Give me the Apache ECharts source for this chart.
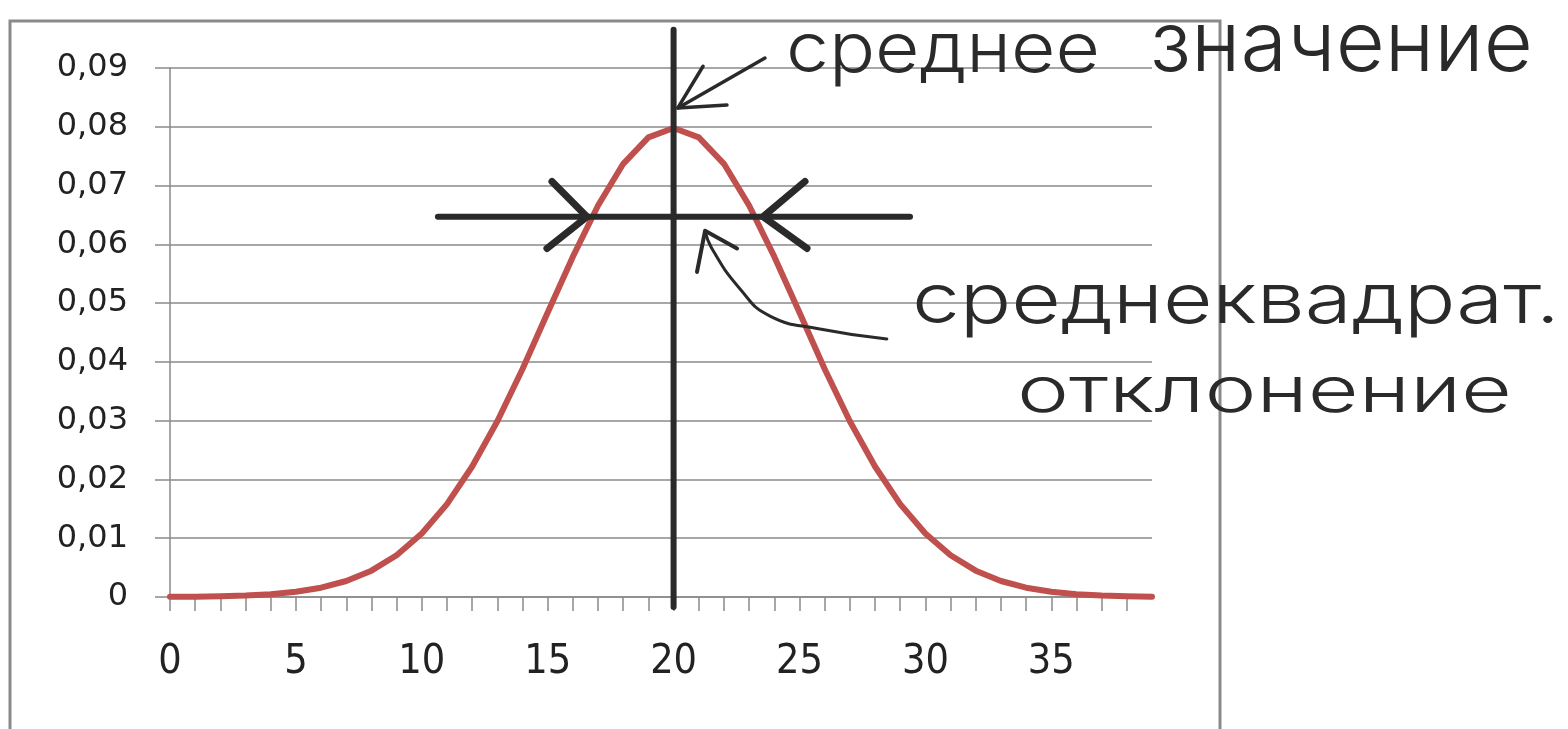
<!DOCTYPE html>
<html>
<head>
<meta charset="utf-8">
<script src="https://cdn.jsdelivr.net/npm/echarts@6/dist/echarts.min.js"></script>
<style>
html,body{margin:0;padding:0;background:#fff;}
#c{width:1568px;height:729px;}
</style>
</head>
<body>
<div id="c"></div>
<script>
// ---- data ----
const xValues = [0,1,2,3,4,5,6,7,8,9,10,11,12,13,14,15,16,17,18,19,20,21,22,23,24,25,26,27,28,29,30,31,32,33,34,35,36,37,38,39];
const density = [0.00003,0.00006,0.00012,0.00025,0.00048,0.00089,0.00158,0.00272,0.00448,0.0071,
                 0.0108,0.0158,0.0222,0.0299,0.0388,0.0484,0.0579,0.0666,0.0737,0.0782,
                 0.0798,
                 0.0782,0.0737,0.0666,0.0579,0.0484,0.0388,0.0299,0.0222,0.0158,
                 0.0108,0.0071,0.00448,0.00272,0.00158,0.00089,0.00048,0.00025,0.00012,0.00006];
const yTickLabels = ['0','0,01','0,02','0,03','0,04','0,05','0,06','0,07','0,08','0,09'];
const xTickLabels = {0:'0',5:'5',10:'10',15:'15',20:'20',25:'25',30:'30',35:'35'};

// hand-drawn annotations (data coordinates)
const meanLine = [[20,0.0965],[20,-0.0017]];
const sdLine = [[10.64,0.0647],[29.39,0.0647]];
const sdLeftHead = [[15.17,0.0707],[16.56,0.0647],[14.97,0.0593]];
const sdRightHead = [[25.22,0.0707],[23.55,0.0647],[25.3,0.0593]];
const meanPointer = [[23.63,0.0917],[20.17,0.0832]];
const meanPointerHead = [[21.17,0.0903],[20.17,0.0832],[22.12,0.0837]];
const sdPointer = [[28.47,0.0439],[25.81,0.0456],[23.83,0.0478],[22.64,0.0524],[21.52,0.0593],[21.25,0.0623]];
const sdPointerHead = [[20.93,0.0553],[21.25,0.0623],[22.52,0.0593]];

const labelMean1 = 'среднее';
const labelMean2 = 'значение';
const labelSd1 = 'среднеквадрат.';
const labelSd2 = 'отклонение';

// ---- chart ----
const chart = echarts.init(document.getElementById('c'), null, {renderer:'canvas'});
const ink = '#2a2a2a';
const gridGray = '#8a8a8a';
const handFont = "'Inter', 'DejaVu Sans', sans-serif";

const mctx = document.createElement('canvas').getContext('2d');
function handText(text, x0, x1, cy, size) {
  const font = '300 ' + size + 'px ' + handFont;
  mctx.font = font;
  const w = mctx.measureText(text).width;
  return {
    type: 'text', x: x0, y: cy, scaleX: (x1 - x0) / w, z: 200,
    style: { text: text, font: font, fill: ink, align: 'left', verticalAlign: 'middle' }
  };
}
function annot(data, width, smooth) {
  return {
    type: 'line', data: data, symbol: 'none', clip: false, silent: true, smooth: !!smooth,
    z: 10, animation: false,
    lineStyle: { color: ink, width: width, cap: 'round', join: 'round' }
  };
}

const series = [
  {
    type: 'line',
    data: xValues.map((x, i) => [x, density[i]]),
    symbol: 'none',
    animation: false,
    z: 5,
    lineStyle: { color: '#C0504D', width: 6, join: 'round', cap: 'round' }
  },
  annot(meanLine, 6),
  annot(sdLine, 6),
  annot(sdLeftHead, 7),
  annot(sdRightHead, 7),
  annot(meanPointer, 3.5),
  annot(meanPointerHead, 3.5),
  annot(sdPointer, 3, true),
  annot(sdPointerHead, 4)
];

chart.setOption({
  backgroundColor: '#ffffff',
  animation: false,
  grid: { left: 170, right: 416, top: 68, bottom: 132 },
  xAxis: {
    type: 'value', min: 0, max: 39, interval: 1,
    splitLine: { show: false },
    axisLine: { show: true, onZero: false, lineStyle: { color: gridGray, width: 1.5 } },
    axisTick: { show: true, length: 14, lineStyle: { color: gridGray, width: 1.5 } },
    axisLabel: {
      margin: 45, color: '#222', fontSize: 41,
      fontFamily: "'Liberation Sans Narrow', 'DejaVu Sans Condensed', 'Roboto', sans-serif",
      showMaxLabel: false,
      formatter: v => (xTickLabels[Math.round(v)] !== undefined && Math.abs(v - Math.round(v)) < 1e-6) ? xTickLabels[Math.round(v)] : ''
    }
  },
  yAxis: {
    type: 'value', min: 0, max: 0.09, interval: 0.01,
    splitLine: { show: true, lineStyle: { color: gridGray, width: 1.5 } },
    axisLine: { show: true, lineStyle: { color: gridGray, width: 1.5 } },
    axisTick: { show: true, length: 15, lineStyle: { color: gridGray, width: 1.5 } },
    axisLabel: {
      margin: 42, color: '#222', fontSize: 32, fontFamily: "'DejaVu Sans', sans-serif",
      formatter: v => yTickLabels[Math.round(v / 0.01)]
    }
  },
  graphic: [
    { type: 'rect', z: 0, shape: { x: 10, y: 21, width: 1210, height: 760 },
      style: { fill: 'none', stroke: '#8a8a8a', lineWidth: 3 } },
    handText(labelMean1, 786, 1100, 51, 70),
    handText(labelMean2, 1150, 1533, 46, 84),
    handText(labelSd1, 912, 1560, 302, 70),
    handText(labelSd2, 1017, 1512, 393, 64)
  ],
  series: series
});
</script>
</body>
</html>
